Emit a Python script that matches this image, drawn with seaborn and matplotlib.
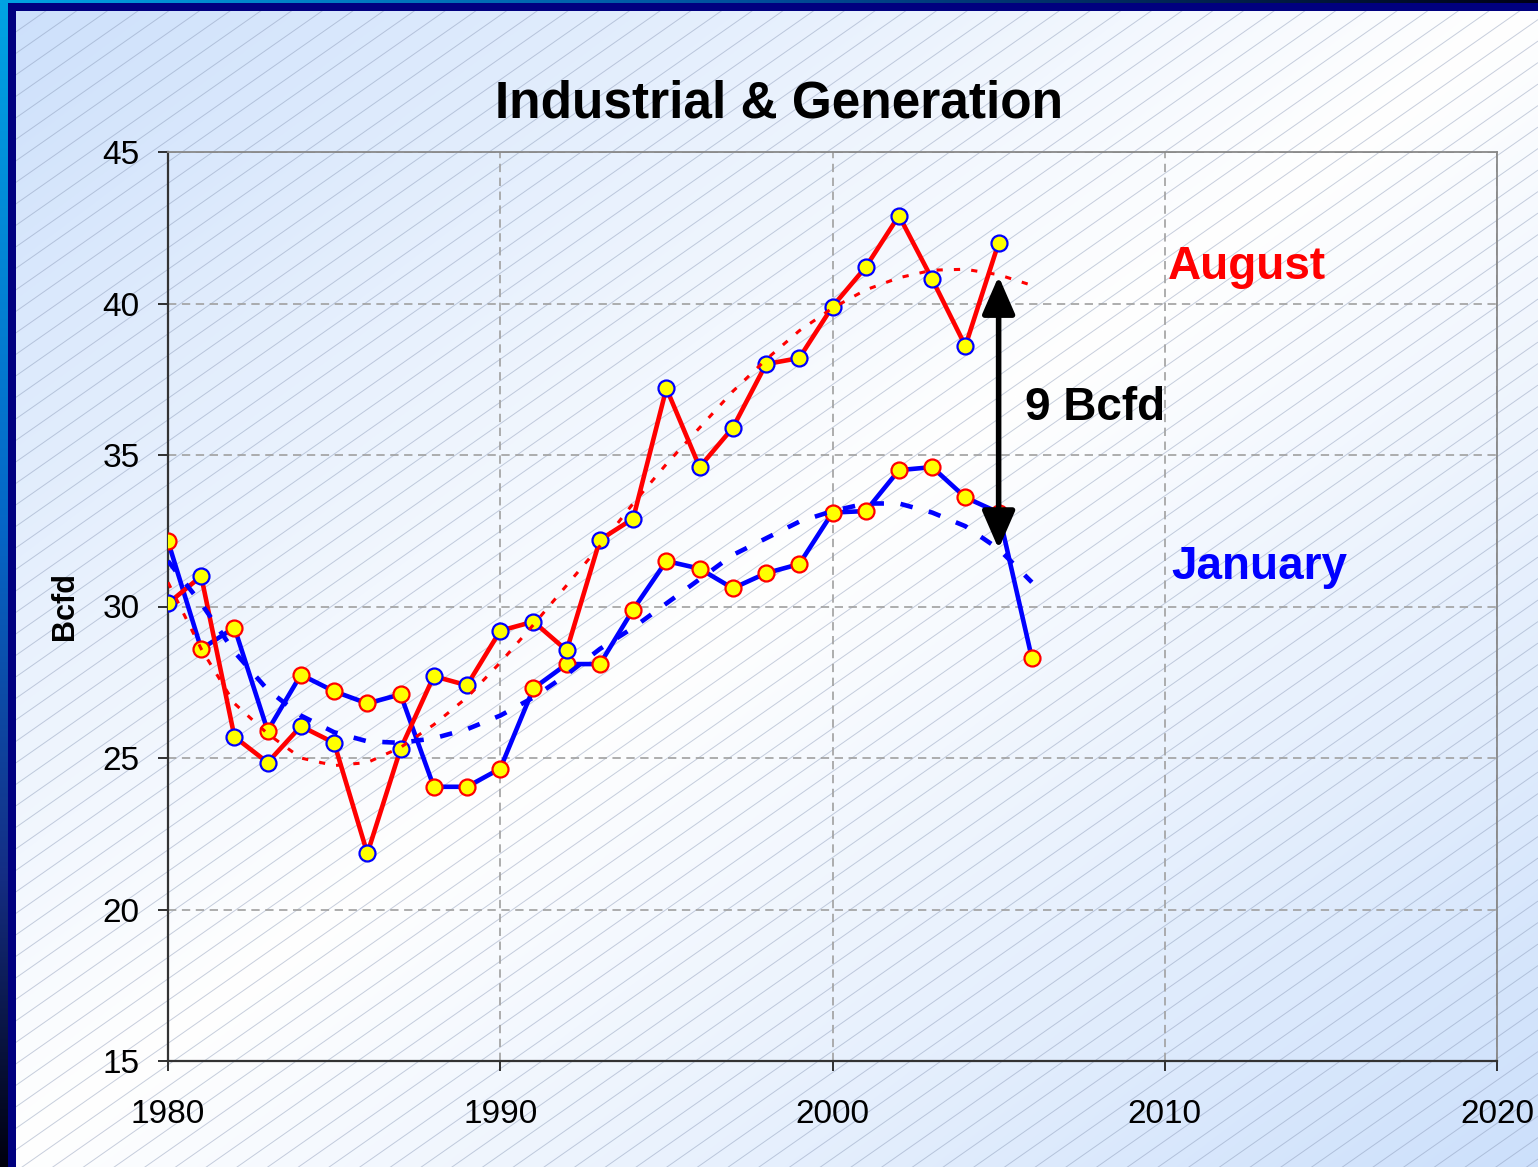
import numpy as np
import pandas as pd
import matplotlib
matplotlib.use('Agg')
import matplotlib.pyplot as plt
import seaborn as sns
from matplotlib.collections import LineCollection
from matplotlib.patches import Rectangle

# data (Bcfd)
years = list(range(1980, 2007))
august = [30.1, 31.0, 25.7, 24.85, 26.05, 25.5, 21.85, 25.3, 27.7, 27.4,
          29.2, 29.5, 28.55, 32.2, 32.9, 37.2, 34.6, 35.9, 38.0, 38.2,
          39.9, 41.2, 42.9, 40.8, 38.6, 42.0]
january = [32.15, 28.6, 29.3, 25.9, 27.75, 27.2, 26.8, 27.1, 24.05, 24.05,
           24.65, 27.3, 28.1, 28.1, 29.9, 31.5, 31.25, 30.6, 31.1, 31.4,
           33.1, 33.15, 34.5, 34.6, 33.6, 33.1, 28.3]
# trendlines as drawn
aug_trend = [30.8, 28.6, 26.8, 25.8, 25.0, 24.75, 24.85, 25.35, 26.1, 27.0,
             28.15, 29.4, 30.7, 32.0, 33.4, 34.7, 35.9, 37.1, 38.15, 39.1,
             39.85, 40.45, 40.85, 41.1, 41.13, 40.95, 40.6]
jan_trend = [31.5, 30.1, 28.5, 27.25, 26.4, 25.85, 25.55, 25.5, 25.65, 25.95,
             26.4, 27.0, 27.75, 28.6, 29.3, 30.1, 30.9, 31.7, 32.25, 32.8,
             33.15, 33.4, 33.4, 33.1, 32.65, 31.9, 30.8]
gap_year = 2005
gap_top, gap_bottom = 40.9, 31.9

x_ticks = [1980, 1990, 2000, 2010, 2020]
y_ticks = [15, 20, 25, 30, 35, 40, 45]

df_aug = pd.DataFrame({'Year': years[:len(august)], 'Bcfd': august})
df_jan = pd.DataFrame({'Year': years, 'Bcfd': january})
df_aug_t = pd.DataFrame({'Year': years, 'Bcfd': aug_trend})
df_jan_t = pd.DataFrame({'Year': years, 'Bcfd': jan_trend})

sns.set_style('white')
plt.rcParams['font.family'] = ['Liberation Sans', 'DejaVu Sans']
plt.rcParams['lines.scale_dashes'] = False
plt.rcParams['text.color'] = 'black'
plt.rcParams['axes.labelcolor'] = 'black'

W, H = 1538, 1167
fig = plt.figure(figsize=(W / 100, H / 100), dpi=100)

# ---- background: diagonal gradient + hatch + border strips
bg = fig.add_axes([0, 0, 1, 1])
bg.set_zorder(0)
u = np.linspace(0, 1, W)
v = np.linspace(0, 1, H)
t = np.clip(np.abs(u[None, :] + v[:, None] - 1), 0, 1)
blue_bg = np.array([0.80, 0.877, 0.985])
img = 1 - t[..., None] * (1 - blue_bg)

def ramp(n, stops):
    pos = np.linspace(0, 1, n)
    sp = np.array([s[0] for s in stops])
    cols = np.array([s[1] for s in stops])
    return np.stack([np.interp(pos, sp, cols[:, k]) for k in range(3)], axis=1)

left_cols = ramp(H, [(0, (0.0, 0.64, 0.89)), (0.45, (0.02, 0.40, 0.78)),
                     (0.75, (0.08, 0.18, 0.52)), (1, (0.0, 0.0, 0.05))])
top_cols = ramp(W, [(0, (0.0, 0.64, 0.89)), (0.5, (0.0, 0.30, 0.60)),
                    (1, (0.0, 0.0, 0.08))])
img[:, 0:8, :] = left_cols[:, None, :]
img[0:3, :, :] = top_cols[None, :, :]
img[3:, 8:16, :] = (0.0, 0.0, 0.50)
img[3:11, 8:, :] = (0.0, 0.0, 0.50)

bg.imshow(img, extent=(0, W, H, 0), aspect='auto', interpolation='bilinear')
k = np.tan(np.radians(35))
segs = [[(0, c), (W, c - k * W)] for c in np.arange(0, H + k * W + 30, 21.5)]
hatch = LineCollection(segs, colors=[(0.52, 0.58, 0.70)], linewidths=0.7, alpha=0.45)
bg.add_collection(hatch)
hatch.set_clip_path(Rectangle((16, 11), W - 16, H - 11, transform=bg.transData))
bg.set_xlim(0, W)
bg.set_ylim(H, 0)
bg.axis('off')

# ---- main axes
ax = fig.add_axes([168 / W, 1 - 1061 / H, (1497 - 168) / W, (1061 - 152) / H])
ax.set_zorder(1)
ax.set_facecolor('none')

sns.lineplot(data=df_jan, x='Year', y='Bcfd', ax=ax, color='#0000ff', lw=3.3,
             marker='o', markersize=11.5, markerfacecolor='#ffff00',
             markeredgecolor='#ff0000', markeredgewidth=1.6, zorder=3)
sns.lineplot(data=df_aug, x='Year', y='Bcfd', ax=ax, color='#ff0000', lw=3.3,
             marker='o', markersize=11.5, markerfacecolor='#ffff00',
             markeredgecolor='#0000ff', markeredgewidth=1.6, zorder=4)
sns.lineplot(data=df_jan_t, x='Year', y='Bcfd', ax=ax, color='#0000ff', lw=3.3,
             linestyle=(0, (9, 12)), zorder=5)
sns.lineplot(data=df_aug_t, x='Year', y='Bcfd', ax=ax, color='#ff0000', lw=2.2,
             linestyle=(0, (4.5, 8)), zorder=5)

ax.annotate('', xy=(gap_year, gap_top), xytext=(gap_year, gap_bottom),
            arrowprops=dict(arrowstyle='<|-|>,head_length=1.15,head_width=0.5',
                            lw=4, color='black', shrinkA=0, shrinkB=0,
                            mutation_scale=20), zorder=6)
ax.text(2005.8, 36.55, '9 Bcfd', fontsize=33, fontweight='bold', va='center',
        ha='left', color='black')
ax.text(2010.1, 40.8, 'August', fontsize=33, fontweight='bold', color='#ff0000',
        va='baseline', ha='left')
ax.text(2010.2, 30.9, 'January', fontsize=33, fontweight='bold', color='#0000ff',
        va='baseline', ha='left')

ax.set_xlim(1980, 2020)
ax.set_ylim(15, 45)
ax.set_xticks(x_ticks)
ax.set_yticks(y_ticks)
ax.set_xlabel('')
ax.set_ylabel('Bcfd', fontsize=22, fontweight='bold', labelpad=16, color='black')
ax.grid(True, color='#a0a0a0', linestyle=(0, (6, 4)), lw=1.2)
ax.tick_params(axis='both', direction='out', length=7.5, width=1.3, colors='#202020',
               labelsize=24, labelcolor='black')
ax.tick_params(axis='x', pad=20, bottom=True)
ax.tick_params(axis='y', pad=13, left=True)
for side in ['left', 'bottom']:
    ax.spines[side].set_color('#333333')
    ax.spines[side].set_linewidth(1.6)
for side in ['top', 'right']:
    ax.spines[side].set_color('#888888')
    ax.spines[side].set_linewidth(1.3)

fig.text(779.5 / W, 1 - 117 / H, 'Industrial & Generation', fontsize=37,
         fontweight='bold', ha='center', va='baseline', color='black')

fig.savefig('out.png', dpi=100)
